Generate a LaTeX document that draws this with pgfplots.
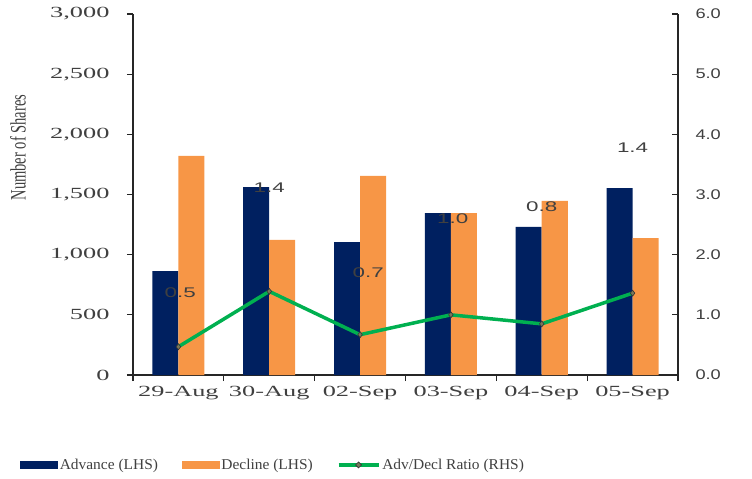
\documentclass[border=0pt]{standalone}
\usepackage{fontspec}
\setmainfont{Liberation Serif}
\newfontfamily\tickserif[FakeStretch=1.7]{Liberation Serif}
\newfontfamily\ticksans[FakeStretch=1.3]{Liberation Sans}
\newfontfamily\lblsans[FakeStretch=1.6]{Liberation Sans}
\newfontfamily\legserif[FakeStretch=1.03]{Liberation Serif}
\newfontfamily\ylabserif[FakeStretch=0.66]{Liberation Serif}
\usepackage{pgfplots}
\pgfplotsset{compat=1.18}
\usepackage{pgfplotstable}

\definecolor{advnavy}{RGB}{0,32,96}
\definecolor{declorange}{RGB}{247,150,70}
\definecolor{ratiogreen}{RGB}{0,176,80}
\definecolor{txtgray}{RGB}{64,64,64}
\definecolor{mkfill}{RGB}{120,120,90}

% day index, advance, decline
\pgfplotstableread{
x adv  decl
0 864  1820
1 1562 1122
2 1105 1654
3 1346 1346
4 1230 1446
5 1554 1138
}\shares

% advance/decline ratio
\pgfplotstableread{
x ratio
0 0.47
1 1.39
2 0.67
3 1.00
4 0.85
5 1.36
}\ratio

% where the ratio labels sit (right axis units)
\pgfplotstableread{
x    y    lbl
0.02 1.36 0.5
1.00 3.12 1.4
2.09 1.70 0.7
3.02 2.59 1.0
4.00 2.79 0.8
5.00 3.77 1.4
}\ratiolbl

\begin{document}
\begin{tikzpicture}
\begin{axis}[
    scale only axis,
    width=545pt, height=361pt,
    xmin=-0.5, xmax=5.5,
    ymin=0, ymax=3000,
    axis x line*=bottom,
    axis y line*=left,
    axis line style={black!85, line width=1.3pt},
    ybar=0pt, bar width=26pt,
    xtick={0,...,5},
    xticklabels={29-Aug,30-Aug,02-Sep,03-Sep,04-Sep,05-Sep},
    minor xtick={-0.5,0.5,...,5.5},
    major x tick style={draw=none},
    minor x tick style={black!85, line width=1.2pt},
    ytick={0,500,...,3000},
    tick align=outside,
    major tick length=6pt, minor tick length=6pt,
    y tick style={black!85, line width=1.2pt},
    /pgf/number format/.cd, 1000 sep={,}, assume math mode=true,
    /pgfplots/.cd,
    ticklabel style={text=txtgray, font=\tickserif\fontsize{15.5}{18}\selectfont},
    yticklabel style={xshift=-14pt},
    xticklabel style={yshift=-2pt},
    ylabel={Number of Shares},
    ylabel style={font=\ylabserif\fontsize{22}{24}\selectfont, text=txtgray,
        at={(axis description cs:-0.211,0.63)}, anchor=center, rotate=0},
]
\addplot[fill=advnavy, draw=none] table[x=x, y=adv] {\shares};
\addplot[fill=declorange, draw=none] table[x=x, y=decl] {\shares};
\end{axis}

\begin{axis}[
    scale only axis,
    width=545pt, height=361pt,
    xmin=-0.5, xmax=5.5,
    ymin=0, ymax=6,
    axis x line=none,
    axis y line*=right,
    axis line style={black!85, line width=1.3pt},
    ytick={0,1,...,6},
    ytick align=inside,
    major tick length=6pt,
    y tick style={black!85, line width=1.2pt},
    /pgf/number format/.cd, fixed, fixed zerofill, precision=1, assume math mode=true,
    /pgfplots/.cd,
    yticklabel style={text=txtgray, font=\ticksans\fontsize{14}{16}\selectfont, xshift=14pt},
    legend style={
        at={(axis description cs:-0.207,-0.249)}, anchor=west,
        draw=none, fill=none, inner sep=0pt,
        font=\legserif\fontsize{15}{17}\selectfont, text=txtgray,
        /tikz/every even column/.append style={column sep=22pt},
    },
    legend columns=3,
    legend cell align=left,
    after end axis/.code={
        \draw[black!85, line width=1.3pt] (rel axis cs:0,0) -- (rel axis cs:0,1);
    },
]
\addlegendimage{legend image code/.code={\fill[advnavy] (0pt,-3.5pt) rectangle (37pt,3.5pt);}}
\addlegendentry{Advance (LHS)}
\addlegendimage{legend image code/.code={\fill[declorange] (0pt,-3.5pt) rectangle (37pt,3.5pt);}}
\addlegendentry{Decline (LHS)}
\addplot[color=ratiogreen, line width=3.5pt,
    mark=diamond*, mark size=3pt,
    mark options={fill=mkfill, draw=black!80, line width=0.6pt},
    legend image code/.code={
        \draw[ratiogreen, line width=3.5pt] (0pt,0pt) -- (40pt,0pt);
        \draw[fill=mkfill, draw=black!80, line width=0.6pt] (17pt,0pt) -- (20pt,3pt) -- (23pt,0pt) -- (20pt,-3pt) -- cycle;
    }]
    table[x=x, y=ratio] {\ratio};
\addlegendentry{Adv/Decl Ratio (RHS)}
\addplot[draw=none, mark=none, forget plot,
    nodes near coords, point meta=explicit symbolic,
    nodes near coords align={center},
    every node near coord/.append style={text=txtgray, font=\lblsans\fontsize{14}{16}\selectfont}]
    table[x=x, y=y, meta=lbl] {\ratiolbl};
\end{axis}
\pgfresetboundingbox
\path (-133pt,-104pt) rectangle (619pt,375pt);
\end{tikzpicture}
\end{document}
